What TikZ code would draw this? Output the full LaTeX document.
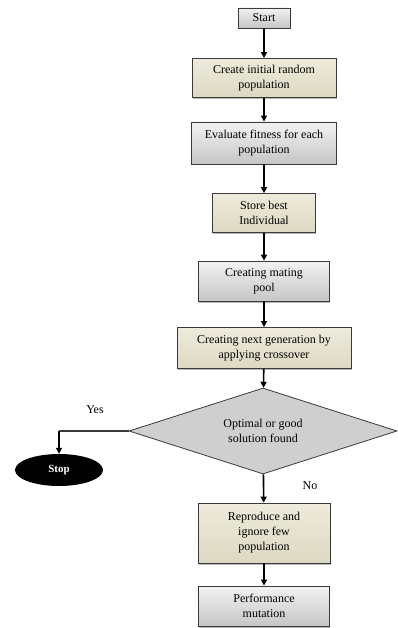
\documentclass[tikz,border=0pt]{standalone}
\usepackage{fontspec}
\setmainfont{Liberation Serif}
\usetikzlibrary{shapes.geometric,arrows.meta,shadows}
\definecolor{beigeT}{HTML}{EEEBDC}
\definecolor{beigeB}{HTML}{DDD8C2}
\definecolor{grayT}{HTML}{F2F2F2}
\definecolor{grayB}{HTML}{C6C6C6}
\definecolor{dia}{HTML}{CFCFCF}
\definecolor{edge}{HTML}{3A3A3A}
\begin{document}
\begin{tikzpicture}[x=1pt,y=-1pt,
  font=\fontsize{12}{15}\selectfont,
  boxbase/.style={rectangle,draw=edge,line width=0.8pt,align=center,inner sep=2pt,
    drop shadow={shadow xshift=0.8pt,shadow yshift=-1.5pt,fill=gray!70,opacity=0.8}},
  beigebox/.style={boxbase,top color=beigeT,bottom color=beigeB},
  graybox/.style={boxbase,top color=grayT,bottom color=grayB},
  flow/.style={-{Triangle[length=6pt,width=6pt]},line width=1.6pt,black}]
\useasboundingbox (0,0) rectangle (398,628);
\node[graybox,minimum width=52pt,minimum height=20pt] (start) at (264,18) {Start};
\node[beigebox,minimum width=144pt,minimum height=39pt] (create) at (264,78) {Create initial random\\population};
\node[graybox,minimum width=145pt,minimum height=42pt] (eval) at (264,143) {Evaluate fitness for each\\population};
\node[beigebox,minimum width=103pt,minimum height=39pt] (store) at (264,213) {Store best\\Individual};
\node[graybox,minimum width=131pt,minimum height=40pt] (mating) at (264,281) {Creating mating\\pool};
\node[beigebox,minimum width=174pt,minimum height=41pt] (next) at (264,348) {Creating next generation by\\applying crossover};
\node[diamond,aspect=3.1,draw=edge,line width=0.8pt,fill=dia,inner sep=0pt,
  minimum width=268pt,minimum height=86pt,align=center] (dec) at (263,431) {Optimal or good\\solution found};
\node[beigebox,minimum width=132pt,minimum height=60pt] (repro) at (264,533) {Reproduce and\\ignore few\\population};
\node[graybox,minimum width=131pt,minimum height=40pt] (perf) at (264,606) {Performance\\mutation};
\node[ellipse,fill=black,text=white,minimum width=88pt,minimum height=32pt,
  font=\fontsize{11}{13}\selectfont\bfseries] (stop) at (59,470) {Stop};
\node (yes) at (95,410) {Yes};
\node (no) at (310,486) {No};
\coordinate (corner) at (59,431);
\draw[flow] (start) -- (create);
\draw[flow] (create) -- (eval);
\draw[flow] (eval) -- (store);
\draw[flow] (store) -- (mating);
\draw[flow] (mating) -- (next);
\draw[flow] (next) -- (dec);
\draw[flow] (dec) -- (repro);
\draw[flow] (repro) -- (perf);
\draw[line width=1.2pt,edge] (dec.west) -- (corner);
\draw[flow,line width=1.2pt] (corner) -- (stop.north);
\end{tikzpicture}
\end{document}
